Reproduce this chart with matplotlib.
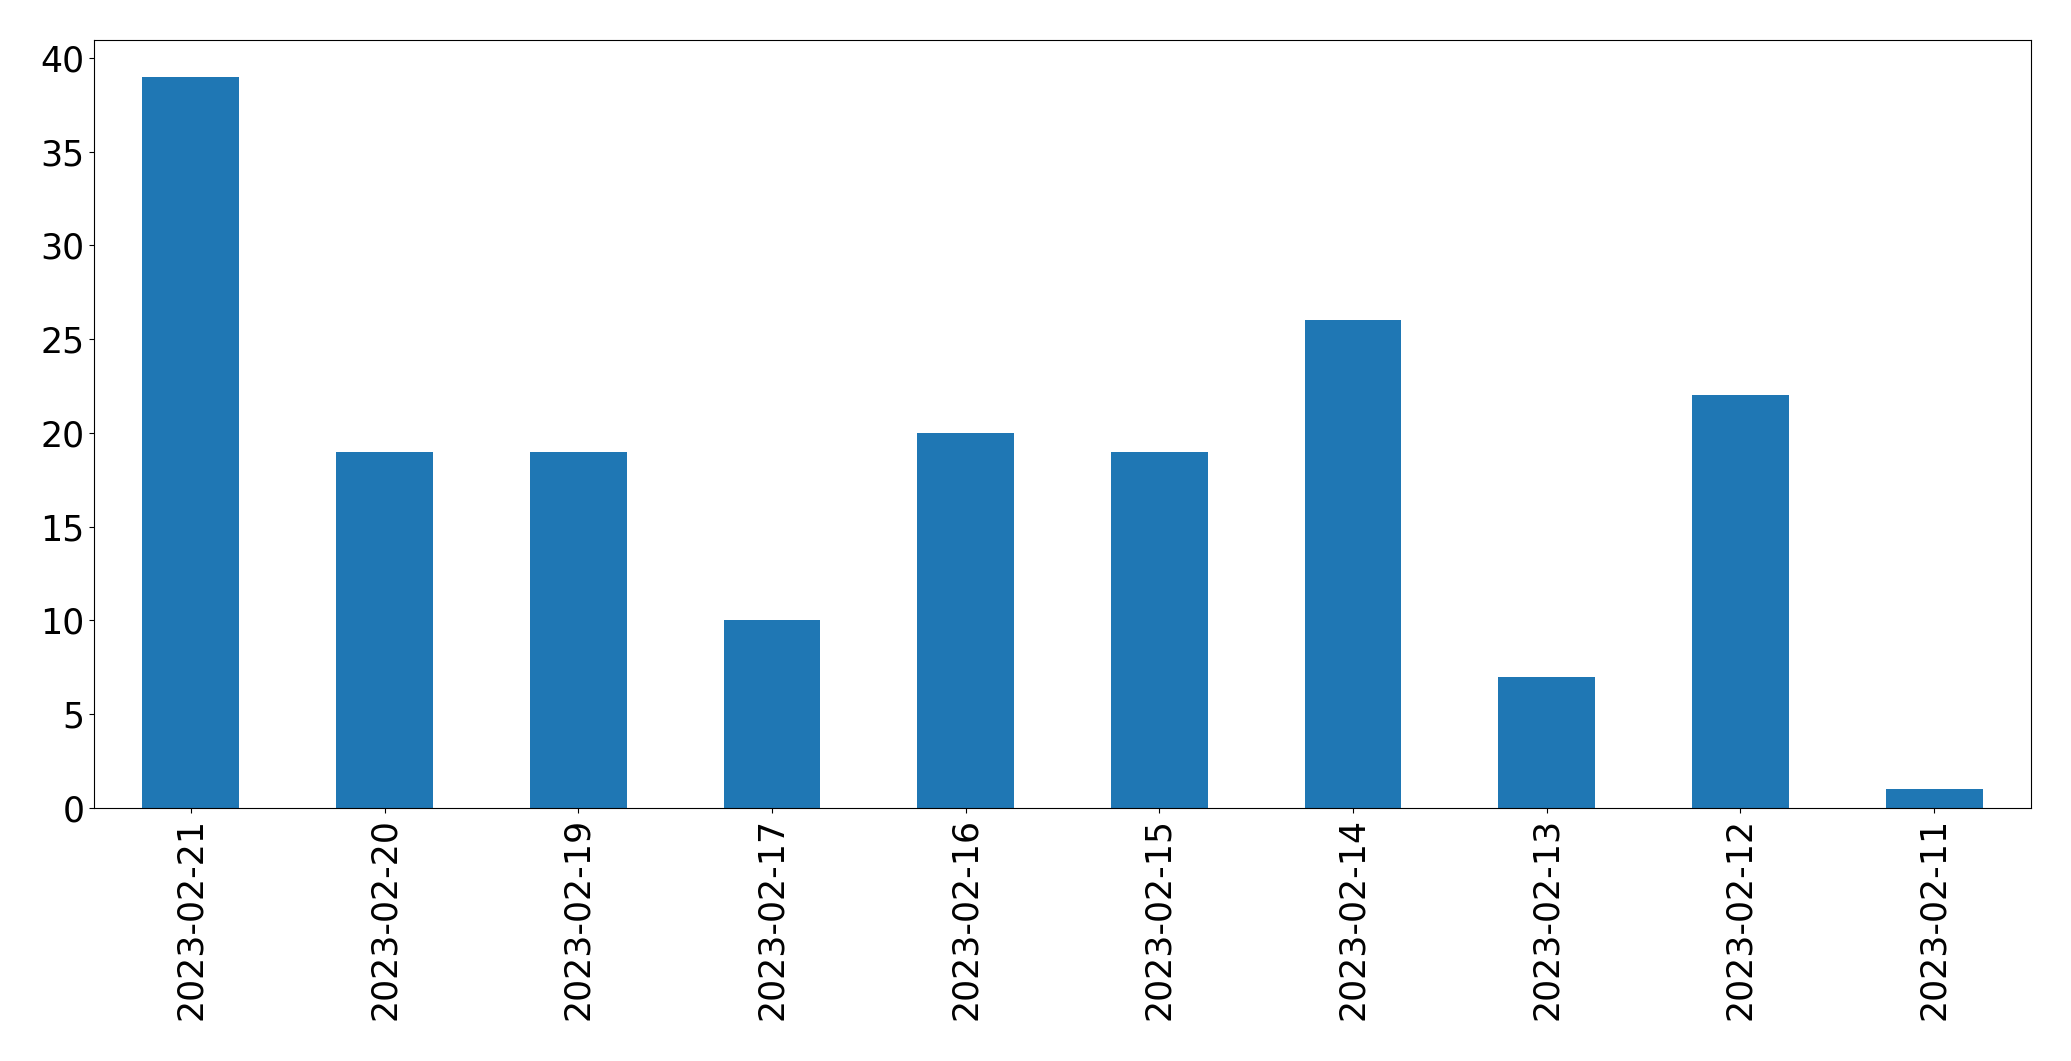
import matplotlib
matplotlib.use("Agg")
import matplotlib.pyplot as plt
import numpy as np

dates = ["2023-02-21", "2023-02-20", "2023-02-19", "2023-02-17", "2023-02-16",
         "2023-02-15", "2023-02-14", "2023-02-13", "2023-02-12", "2023-02-11"]
counts = [39, 19, 19, 10, 20, 19, 26, 7, 22, 1]

fig = plt.figure(figsize=(20.71, 10.61), dpi=100)
ax = fig.add_axes([94/2071, 1 - 808/1061, (2031-94)/2071, (808-40)/1061])
x = np.arange(len(dates))
ax.bar(x, counts, width=0.5, color="#1f77b4")
ax.set_xticks(x)
ax.set_xticklabels(dates, rotation=90)
ax.set_xlim(-0.5, len(dates) - 0.5)
ax.set_ylim(0, 40.95)
ax.tick_params(labelsize=25)
fig.savefig("out.png", dpi=100)
